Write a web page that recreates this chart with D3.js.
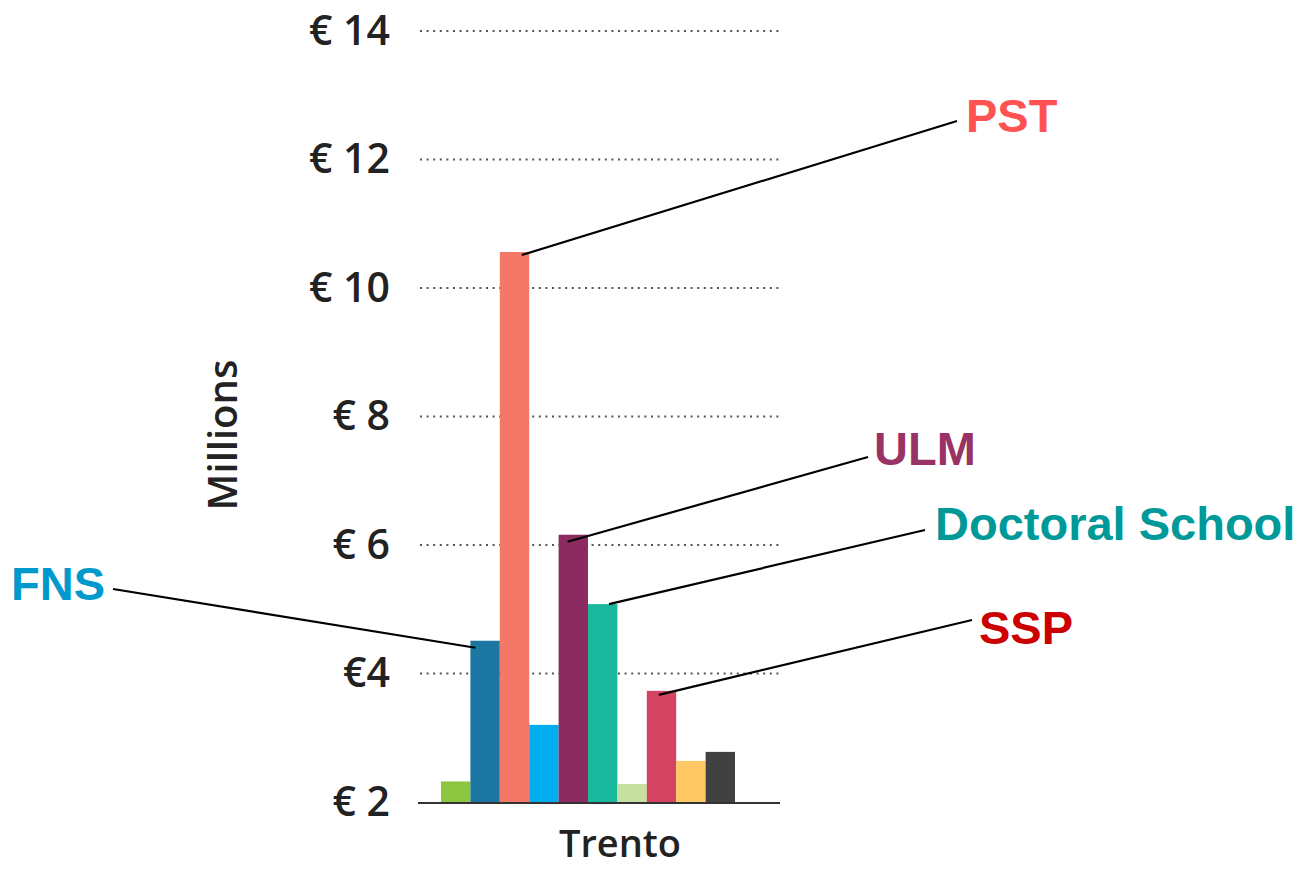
<!DOCTYPE html>
<html>
<head>
<meta charset="utf-8">
<script src="https://cdn.jsdelivr.net/npm/d3@7"></script>
<style>
    html, body { margin: 0; padding: 0; background: #fff; }
    #chart { width: 1306px; height: 870px; }
</style>
</head>
<body>
<div id="chart"></div>
<script>
// Bars for the Trento group, left to right
const units = ['Unit A', 'FNS', 'PST', 'Unit D', 'ULM', 'Doctoral School', 'Unit G', 'SSP', 'Unit I', 'Unit J'];
const funding = [2.32, 4.51, 10.56, 3.20, 6.16, 5.08, 2.28, 3.73, 2.64, 2.78];
const barColors = ['#8cc63f', '#1b76a1', '#f47767', '#00aeef', '#8b2b5f',
    '#1ab99e', '#c6e0a2', '#d44462', '#fec964', '#414141'];

// y ticks and their printed labels
const tickValues = [2, 4, 6, 8, 10, 12, 14];
const tickLabels = ['€ 2', '€4', '€ 6', '€ 8', '€ 10', '€ 12', '€ 14'];

// Callout labels
const calloutUnits = ['PST', 'ULM', 'Doctoral School', 'SSP', 'FNS'];
const calloutColors = ['#ff5252', '#993366', '#009999', '#cc0000', '#0099cc'];

const width = 1306, height = 870;

const svg = d3.select('#chart')
    .append('svg')
    .attr('width', width)
    .attr('height', height);

const y = d3.scaleLinear()
    .domain([2, 14])
    .range([802, 31]);

const x = d3.scaleBand()
    .domain(units)
    .range([441, 735])
    .padding(0);

// ===== gridlines (behind bars) =====
const grid = svg.append('g').attr('class', 'grid');
grid.selectAll('line')
    .data(tickValues.filter(v => v > 2))
    .join('line')
    .attr('x1', 420)
    .attr('x2', 780)
    .attr('y1', d => y(d))
    .attr('y2', d => y(d))
    .attr('stroke', '#555')
    .attr('stroke-width', 2)
    .attr('stroke-dasharray', '2,4.6');

// ===== tick labels =====
const yAxis = d3.axisLeft(y)
    .tickValues(tickValues)
    .tickFormat((d, i) => tickLabels[i])
    .tickSize(0)
    .tickPadding(0);

const axisG = svg.append('g')
    .attr('transform', 'translate(390,0)')
    .call(yAxis);
axisG.select('.domain').remove();
axisG.selectAll('text')
    .attr('font-family', '"Open Sans", sans-serif')
    .attr('font-weight', 600)
    .attr('font-size', 41)
    .attr('fill', '#222');

// ===== bars =====
svg.append('g')
    .selectAll('rect')
    .data(units)
    .join('rect')
    .attr('x', d => x(d))
    .attr('width', x.bandwidth())
    .attr('y', (d, i) => y(funding[i]))
    .attr('height', (d, i) => y(2) - y(funding[i]))
    .attr('fill', (d, i) => barColors[i]);

// baseline
svg.append('line')
    .attr('x1', 418)
    .attr('x2', 780)
    .attr('y1', y(2) + 1)
    .attr('y2', y(2) + 1)
    .attr('stroke', '#333')
    .attr('stroke-width', 2);

// axis titles
svg.append('text')
    .attr('transform', 'translate(237,435) rotate(-90)')
    .attr('text-anchor', 'middle')
    .attr('font-family', '"Open Sans", sans-serif')
    .attr('font-weight', 600)
    .attr('font-size', 40)
    .attr('fill', '#222')
    .text('Millions');

svg.append('text')
    .attr('x', 620)
    .attr('y', 857)
    .attr('text-anchor', 'middle')
    .attr('font-family', '"Open Sans", sans-serif')
    .attr('font-weight', 600)
    .attr('font-size', 38)
    .attr('fill', '#222')
    .text('Trento');

// ===== callouts =====
// label anchor (end of leader line) and offset into the bar top
const calloutLayout = {
    'PST': { lx: 957, ly: 121, tx: 966, ty: 132, dx: 22, dy: 3, anchor: 'start' },
    'ULM': { lx: 868, ly: 457, tx: 874, ty: 465, dx: 9, dy: 7, anchor: 'start' },
    'Doctoral School': { lx: 925, ly: 530, tx: 935, ty: 540, dx: 21, dy: 0, anchor: 'start' },
    'SSP': { lx: 972, ly: 620, tx: 979, ty: 644, dx: 12, dy: 4, anchor: 'start' },
    'FNS': { lx: 113, ly: 589, tx: 105, ty: 600, dx: 5, dy: 7, anchor: 'end' }
};

const callouts = svg.append('g').attr('class', 'callouts');

calloutUnits.forEach((name, i) => {
    const idx = units.indexOf(name);
    const L = calloutLayout[name];
    const bx = x(name) + L.dx;
    const by = y(funding[idx]) + L.dy;

    callouts.append('line')
        .attr('x1', bx)
        .attr('y1', by)
        .attr('x2', L.lx)
        .attr('y2', L.ly)
        .attr('stroke', '#000')
        .attr('stroke-width', 2.2);

    callouts.append('text')
        .attr('x', L.tx)
        .attr('y', L.ty)
        .attr('text-anchor', L.anchor)
        .attr('font-family', '"Liberation Sans", Arial, sans-serif')
        .attr('font-weight', 'bold')
        .attr('font-size', 47)
        .attr('fill', calloutColors[i])
        .text(name);
});
</script>
</body>
</html>
